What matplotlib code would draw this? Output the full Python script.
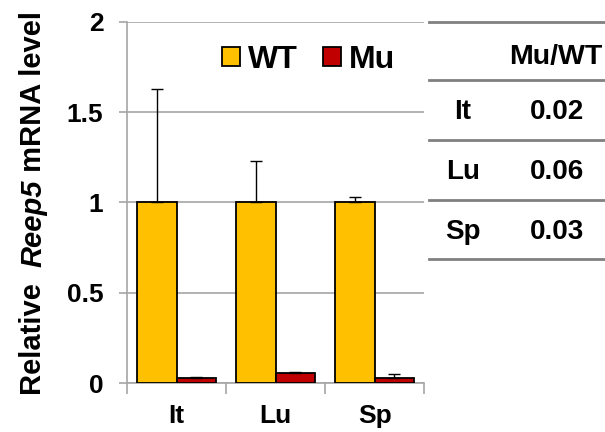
import matplotlib.pyplot as plt
import numpy as np

plt.rcParams['font.family'] = ['Liberation Sans', 'DejaVu Sans']
plt.rcParams['font.weight'] = 'bold'

tissues = ['It', 'Lu', 'Sp']
wt = [1.0, 1.0, 1.0]
wt_err = [0.63, 0.23, 0.03]
mu = [0.025, 0.057, 0.025]
mu_err = [0.01, 0.003, 0.023]
ratio_rows = ['It', 'Lu', 'Sp']
ratio_vals = ['0.02', '0.06', '0.03']

fig = plt.figure(figsize=(6.05, 4.32), dpi=100)
ax = fig.add_axes([0.21, 0.1134, 0.491, 0.836])

x = np.arange(len(tissues))
w = 0.4
ax.bar(x - w/2, wt, w, color='#FFC000', edgecolor='black', lw=1.3, label='WT', zorder=3)
ax.bar(x + w/2, mu, w, color='#C00000', edgecolor='black', lw=1.3, label='Mu', zorder=3)
ax.errorbar(x - w/2, wt, yerr=[np.zeros(3), wt_err], fmt='none', ecolor='black',
            elinewidth=1, capsize=4, capthick=1, zorder=4)
ax.errorbar(x + w/2, mu, yerr=[np.zeros(3), mu_err], fmt='none', ecolor='black',
            elinewidth=1, capsize=4, capthick=1, zorder=4)

ax.set_xlim(-0.5, 2.5)
ax.set_ylim(0, 2)
ax.set_yticks([0, 0.5, 1, 1.5, 2])
ax.set_yticklabels(['0', '0.5', '1', '1.5', '2'], fontsize=19, fontweight='bold')
ax.set_xticks(x)
ax.set_xticklabels(tissues, fontsize=19, fontweight='bold')
ax.set_xticks([-0.5, 0.5, 1.5, 2.5], minor=True)
ax.tick_params(axis='x', which='major', length=0, pad=15)
ax.tick_params(axis='x', which='minor', length=8, color='#A6A6A6', width=1.2)
ax.tick_params(axis='y', length=6, color='#A6A6A6', width=1.2, pad=11)
ax.grid(axis='y', color='#A6A6A6', lw=1.2, zorder=0)
for s in ['top', 'right']:
    ax.spines[s].set_visible(False)
for s in ['left', 'bottom']:
    ax.spines[s].set_color('#A6A6A6')
    ax.spines[s].set_linewidth(1.2)

# y label in three pieces so only the gene name is italic
renderer = fig.canvas.get_renderer()
pieces = [('Relative  ', 'normal'), ('Reep5', 'italic'), (' mRNA level', 'normal')]
texts = []
for s, st in pieces:
    t = fig.text(33 / 605, 0, s, rotation=90, fontsize=21, fontweight='bold',
                 fontstyle=st, ha='center', va='bottom')
    texts.append(t)
heights = [t.get_window_extent(renderer).height for t in texts]
ystart = 229 - sum(heights) / 2  # centre in pixels from bottom
for t, h in zip(texts, heights):
    t.set_y(ystart / 432)
    ystart += h

ax.legend(loc='center left', bbox_to_anchor=(222 / 605, 1 - 60 / 432),
          bbox_transform=fig.transFigure, ncol=2, frameon=False,
          handlelength=0.55, handleheight=0.55, handletextpad=0.25,
          columnspacing=0.8, borderpad=0, borderaxespad=0,
          prop={'weight': 'bold', 'size': 23})

# ratio table
x0, x1 = 429 / 605, 1.0
for yp in [22, 80, 140, 200, 259]:
    fig.add_artist(plt.Line2D([x0, x1], [1 - yp / 432] * 2, color='#808080', lw=2))
fig.text(556 / 605, 1 - 57 / 432, 'Mu/WT', ha='center', va='center', fontsize=20.5, fontweight='bold')
for i, (r, v) in enumerate(zip(ratio_rows, ratio_vals)):
    yc = 1 - (112 + 60 * i) / 432
    fig.text(463 / 605, yc, r, ha='center', va='center', fontsize=20, fontweight='bold')
    fig.text(557 / 605, yc, v, ha='center', va='center', fontsize=20, fontweight='bold')

fig.savefig('out.png', dpi=100)
